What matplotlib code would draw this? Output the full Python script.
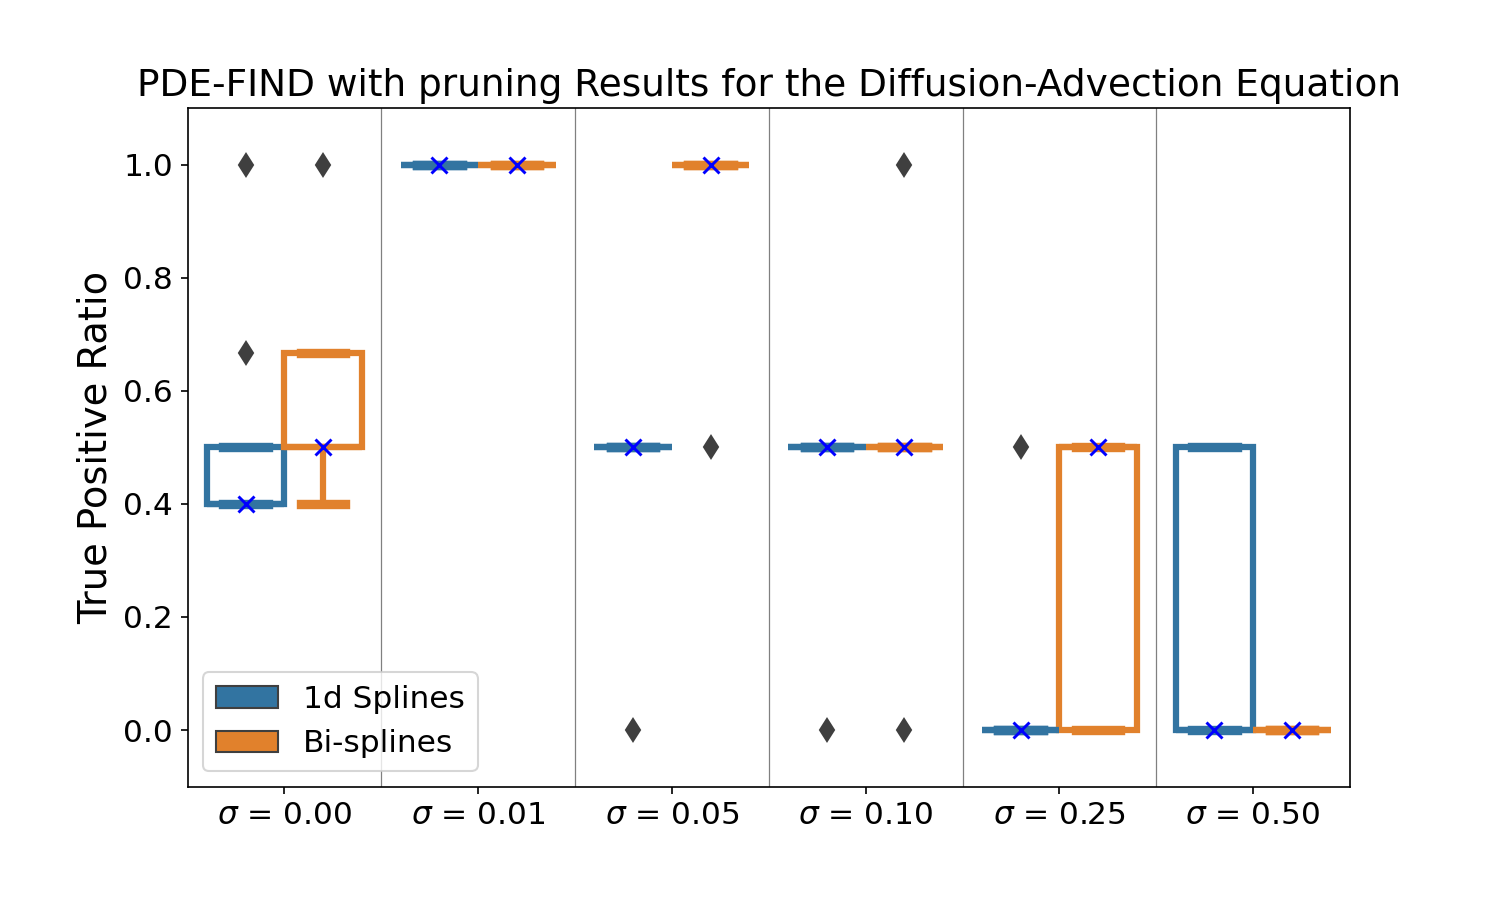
import numpy as np
import matplotlib
matplotlib.use('Agg')
from matplotlib import pyplot as plt
from matplotlib.patches import Patch

#####################################
# Data (box statistics)
sigmas = ['0.00', '0.01', '0.05', '0.10', '0.25', '0.50']
methods = ['1d Splines', 'Bi-splines']

# 1d splines
q1_1d = [0.4, 1.0, 0.5, 0.5, 0.0, 0.0]
med_1d = [0.4, 1.0, 0.5, 0.5, 0.0, 0.0]
q3_1d = [0.5, 1.0, 0.5, 0.5, 0.0, 0.5]
wlo_1d = [0.4, 1.0, 0.5, 0.5, 0.0, 0.0]
whi_1d = [0.5, 1.0, 0.5, 0.5, 0.0, 0.5]
fl_1d = [[0.667, 1.0], [], [0.0], [0.0], [0.5], []]

# bi-splines
q1_bi = [0.5, 1.0, 1.0, 0.5, 0.0, 0.0]
med_bi = [0.5, 1.0, 1.0, 0.5, 0.5, 0.0]
q3_bi = [0.667, 1.0, 1.0, 0.5, 0.5, 0.0]
wlo_bi = [0.4, 1.0, 1.0, 0.5, 0.0, 0.0]
whi_bi = [0.667, 1.0, 1.0, 0.5, 0.5, 0.0]
fl_bi = [[1.0], [], [0.5], [0.0, 1.0], [], []]
#####################################

colors = ['#3274a1', '#e1812c']
fig = plt.figure(figsize=(10, 6), dpi=150)
ax = fig.add_axes([0.125, 0.126, 0.775, 0.754])

def stats(q1, med, q3, wlo, whi, fl):
    out = []
    for i in range(len(q1)):
        out.append({'q1': q1[i], 'med': med[i], 'q3': q3[i],
                    'whislo': wlo[i], 'whishi': whi[i], 'fliers': fl[i]})
    return out

groups = [stats(q1_1d, med_1d, q3_1d, wlo_1d, whi_1d, fl_1d),
          stats(q1_bi, med_bi, q3_bi, wlo_bi, whi_bi, fl_bi)]
meds = [med_1d, med_bi]
x = np.arange(len(sigmas))

for k, offset in enumerate([-0.2, 0.2]):
    c = colors[k]
    pos = x + offset
    ax.bxp(groups[k], positions=pos, widths=0.4, capwidths=0.23,
           patch_artist=True, manage_ticks=False,
           boxprops=dict(facecolor='white', edgecolor=c, linewidth=3),
           whiskerprops=dict(color=c, linewidth=3),
           capprops=dict(color=c, linewidth=4.5),
           medianprops=dict(color=c, linewidth=3),
           flierprops=dict(marker='d', markerfacecolor='#3f3f3f',
                           markeredgecolor='#3f3f3f', markersize=7.5))
    ax.plot(pos, meds[k], 'x', color='blue', markersize=7.5, mew=1.4, zorder=5)

for b in np.arange(0.5, len(sigmas) - 0.5, 1):
    ax.axvline(b, color='grey', linewidth=0.6, zorder=0)

ax.set_xlim(-0.5, len(sigmas) - 0.5)
ax.set_ylim(-0.1, 1.1)
ax.set_xticks(x)
ax.set_xticklabels([r'$\sigma$ = ' + s for s in sigmas], fontsize=15)
ax.set_yticks([0.0, 0.2, 0.4, 0.6, 0.8, 1.0])
ax.tick_params(axis='y', labelsize=15)
ax.set_ylabel('True Positive Ratio', fontsize=18.5)
ax.set_title('PDE-FIND with pruning Results for the Diffusion-Advection Equation', fontsize=18)

handles = [Patch(facecolor=colors[i], edgecolor='#3f3f3f', label=methods[i]) for i in range(2)]
ax.legend(handles=handles, loc='lower left', fontsize=15)

fig.savefig('out.png')
